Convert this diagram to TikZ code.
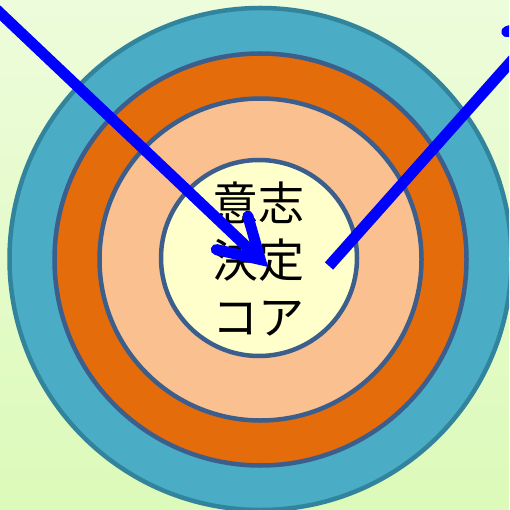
\documentclass[tikz,border=0pt]{standalone}
\usepackage{fontspec}
\newfontfamily\cjk{Noto Sans CJK JP}
\usetikzlibrary{calc}
\definecolor{bgtop}{HTML}{EDFCDB}
\definecolor{bgbot}{HTML}{DCFAB9}
\definecolor{ringA}{HTML}{4BACC6}
\definecolor{ringAline}{HTML}{31849B}
\definecolor{ringB}{HTML}{E46C0A}
\definecolor{ringC}{HTML}{FAC090}
\definecolor{coreC}{HTML}{FFFFCC}
\definecolor{ringline}{HTML}{3B5E8C}
\definecolor{arrowblue}{HTML}{0000FF}
\tikzset{
  ring/.style={circle, draw=ringline, line width=4.5pt, inner sep=0pt},
  bluestem/.style={draw=arrowblue, line width=11pt, line cap=butt},
  bluebarb/.style={draw=arrowblue, line width=11pt, line cap=round, line join=miter},
  coretext/.style={font=\cjk\fontsize{46}{57}\selectfont, align=center, text=black}
}
\begin{document}
\begin{tikzpicture}[x=1pt,y=-1pt]
\path[use as bounding box, top color=bgtop, bottom color=bgbot] (0,0) rectangle (509,510);
\begin{scope}
\clip (0,0) rectangle (509,510);
\node[ring, draw=ringAline, fill=ringA, minimum size=502pt] (outer) at (260.5,259) {};
\node[ring, fill=ringB, minimum size=412pt] (mid) at (260.5,259.5) {};
\node[ring, fill=ringC, minimum size=322pt] (inner) at (260.5,259.5) {};
\node[ring, fill=coreC, minimum size=196pt] (core) at (259,258) {};
\node[coretext] (label) at (258.5,259) {意志\\決定\\コア};
% arrow 1: into the core
\coordinate (a1s) at (-10,3.4);
\coordinate (a1v) at (260.2,259.5);
\draw[bluestem] (a1s) -- (a1v);
\draw[bluebarb] ($(a1v)!45.1pt!30.7:(a1s)$) -- (a1v) -- ($(a1v)!45.1pt!-30.7:(a1s)$);
% arrow 2: out of the core
\coordinate (a2s) at (329,266);
\coordinate (a2v) at (549.7,18.1);
\draw[bluestem] (a2s) -- (a2v);
\draw[bluebarb] ($(a2v)!45.1pt!30.7:(a2s)$) -- (a2v) -- ($(a2v)!45.1pt!-30.7:(a2s)$);
\end{scope}
\end{tikzpicture}
\end{document}
